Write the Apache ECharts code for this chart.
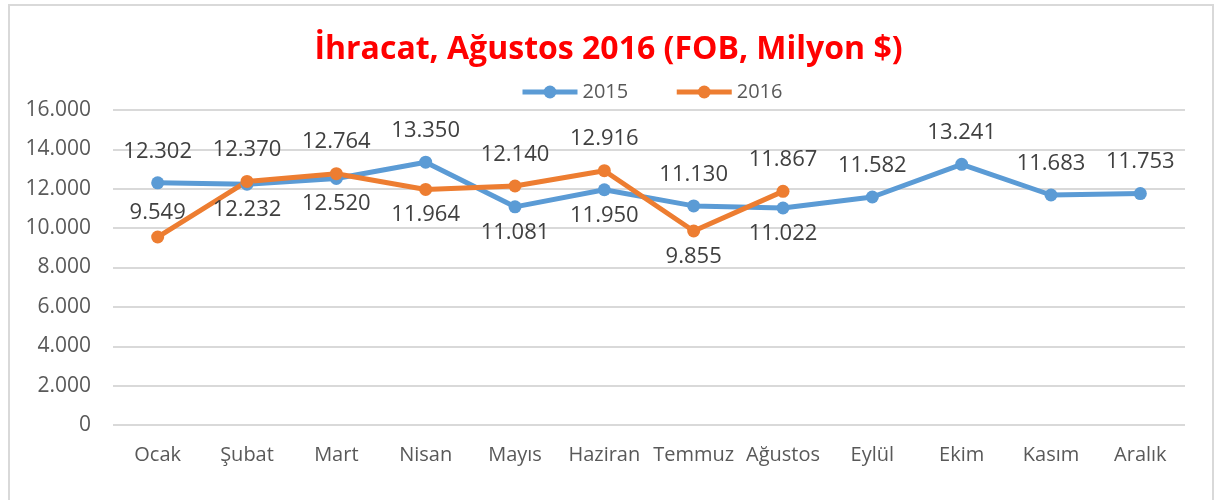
<!DOCTYPE html>
<html>
<head>
<meta charset="utf-8">
<script src="https://cdn.jsdelivr.net/npm/echarts@6/dist/echarts.min.js"></script>
<style>
  html, body { margin: 0; padding: 0; background: #fff; }
  #frame { position: absolute; left: 8px; top: 4px; width: 1206px; height: 500px; border: 2px solid #d9d9d9; box-sizing: border-box; }
  #main { position: absolute; left: 0; top: 0; width: 1217px; height: 500px; }
</style>
</head>
<body>
<div id="frame"></div>
<div id="main"></div>
<script>
// veriler
const months = ['Ocak', 'Şubat', 'Mart', 'Nisan', 'Mayıs', 'Haziran', 'Temmuz', 'Ağustos', 'Eylül', 'Ekim', 'Kasım', 'Aralık']
const export2015 = [12302, 12232, 12520, 13350, 11081, 11950, 11130, 11022, 11582, 13241, 11683, 11753]
const export2016 = [9549, 12370, 12764, 11964, 12140, 12916, 9855, 11867]

const fmt = v => String(v).replace(/\B(?=(\d{3})+(?!\d))/g, '.')

// etiket konumu: iki seriden yüksek olan üstte
const pos2015 = export2015.map((v, i) => (export2016[i] === undefined || v >= export2016[i]) ? 'top' : 'bottom')
const pos2016 = export2016.map((v, i) => (v > export2015[i] || i === 0) ? 'top' : 'bottom')

const labelStyle = { fontSize: 22, color: '#404040', fontFamily: 'Open Sans' }

function buildData(values, positions, firstDistance) {
  return values.map((v, i) => ({
    value: v,
    label: {
      position: positions[i],
      distance: (i === 0 && firstDistance) ? firstDistance : (positions[i] === 'top' ? 14 : 8)
    }
  }))
}

let myChart = echarts.init(document.getElementById('main'))
myChart.setOption({
  animation: false,
  title: {
    text: 'İhracat, Ağustos 2016 (FOB, Milyon $)',
    left: 'center',
    top: 29,
    textStyle: { color: '#ff0000', fontSize: 32, fontWeight: 'bold', fontFamily: 'Open Sans' }
  },
  legend: {
    left: 515,
    top: 77,
    itemWidth: 55,
    itemHeight: 16,
    itemGap: 46,
    lineStyle: { width: 5 },
    textStyle: { fontSize: 20, color: '#595959', fontFamily: 'Open Sans' },
    data: ['2015', '2016']
  },
  grid: { left: 113, right: 32, top: 110, bottom: 75 },
  xAxis: {
    type: 'category',
    data: months,
    axisLine: { show: false },
    axisTick: { show: false },
    axisLabel: { interval: 0, fontSize: 20, color: '#595959', fontFamily: 'Open Sans', margin: 20 }
  },
  yAxis: {
    type: 'value',
    min: 0,
    max: 16000,
    interval: 2000,
    axisLine: { show: false },
    axisTick: { show: false },
    axisLabel: { fontSize: 21, color: '#595959', fontFamily: 'Open Sans', margin: 22, formatter: fmt },
    splitLine: { lineStyle: { color: '#d9d9d9', width: 2 } }
  },
  series: [
    {
      name: '2015',
      type: 'line',
      data: buildData(export2015, pos2015),
      symbol: 'circle',
      symbolSize: 13,
      itemStyle: { color: '#5b9bd5' },
      lineStyle: { width: 5, color: '#5b9bd5' },
      label: Object.assign({ show: true, formatter: p => fmt(p.value) }, labelStyle)
    },
    {
      name: '2016',
      type: 'line',
      data: buildData(export2016, pos2016, 7),
      symbol: 'circle',
      symbolSize: 13,
      itemStyle: { color: '#ed7d31' },
      lineStyle: { width: 5, color: '#ed7d31' },
      label: Object.assign({ show: true, formatter: p => fmt(p.value) }, labelStyle)
    }
  ]
})
</script>
</body>
</html>
